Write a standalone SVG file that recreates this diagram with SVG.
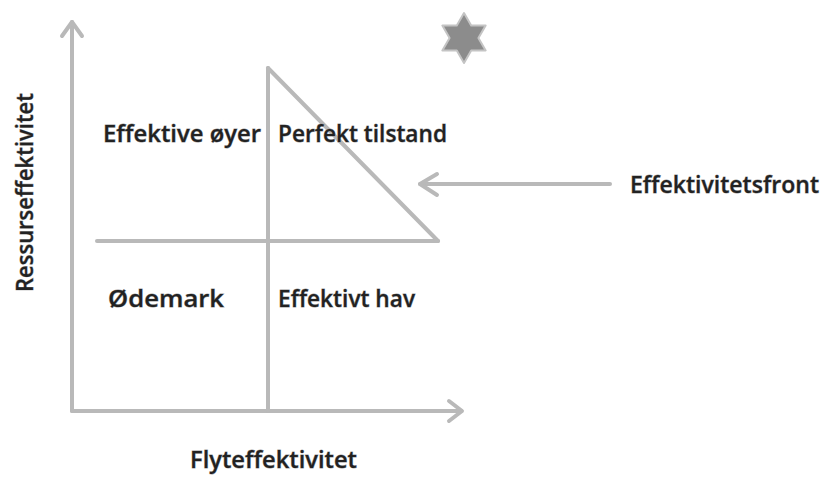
<svg xmlns="http://www.w3.org/2000/svg" width="821" height="477" viewBox="0 0 821 477">
  <style>
    .ln { fill: none; stroke: #b9b9b9; stroke-width: 4; stroke-linecap: round; stroke-linejoin: round; }
    .lbl { font-family: "Open Sans", "Liberation Sans", sans-serif; font-size: 23px; font-weight: 600; fill: #222222; stroke: #a0a0a0; stroke-width: 0.8; paint-order: stroke; }
  </style>
  <rect width="821" height="477" fill="#ffffff"/>

  <g id="connectors">
    <!-- axes -->
    <path class="ln" d="M72,411 L72,22"/>
    <path class="ln" d="M62,36 L72,22 L82,36"/>
    <path class="ln" d="M72,411 L461,411"/>
    <path class="ln" d="M449,401 L462,411 L449,421"/>
    <!-- quadrant dividers -->
    <path class="ln" d="M268,411 L268,68"/>
    <path class="ln" d="M97,241 L438,241"/>
    <!-- frontier -->
    <path class="ln" d="M268,68 L438,241"/>
    <!-- pointer to frontier -->
    <path class="ln" d="M610,184 L420,184"/>
    <path class="ln" d="M437,174 L420,184 L437,195"/>
  </g>

  <g id="star">
    <polygon points="464,13 471.2,25.5 485.65,25.5 478.4,38 485.65,50.5 471.2,50.5 464,63 456.8,50.5 442.35,50.5 449.6,38 442.35,25.5 456.8,25.5" fill="#8c8c8c" stroke="#c4c4c4" stroke-width="2" stroke-linejoin="round"/>
  </g>

  <g id="q-effektive-oyer"><text class="lbl" x="103" y="142" textLength="158" lengthAdjust="spacingAndGlyphs">Effektive øyer</text></g>
  <g id="q-perfekt-tilstand"><text class="lbl" x="278" y="142" textLength="169" lengthAdjust="spacingAndGlyphs">Perfekt tilstand</text></g>
  <g id="q-odemark"><text class="lbl" x="108" y="307" textLength="116" lengthAdjust="spacingAndGlyphs">Ødemark</text></g>
  <g id="q-effektivt-hav"><text class="lbl" x="278" y="307" textLength="137" lengthAdjust="spacingAndGlyphs">Effektivt hav</text></g>
  <g id="lbl-front"><text class="lbl" x="630" y="193" textLength="189" lengthAdjust="spacingAndGlyphs">Effektivitetsfront</text></g>
  <g id="lbl-x"><text class="lbl" x="190" y="468" textLength="167" lengthAdjust="spacingAndGlyphs">Flyteffektivitet</text></g>
  <g id="lbl-y"><text class="lbl" transform="translate(33,292) rotate(-90)" x="0" y="0" textLength="199" lengthAdjust="spacingAndGlyphs">Ressurseffektivitet</text></g>
</svg>
